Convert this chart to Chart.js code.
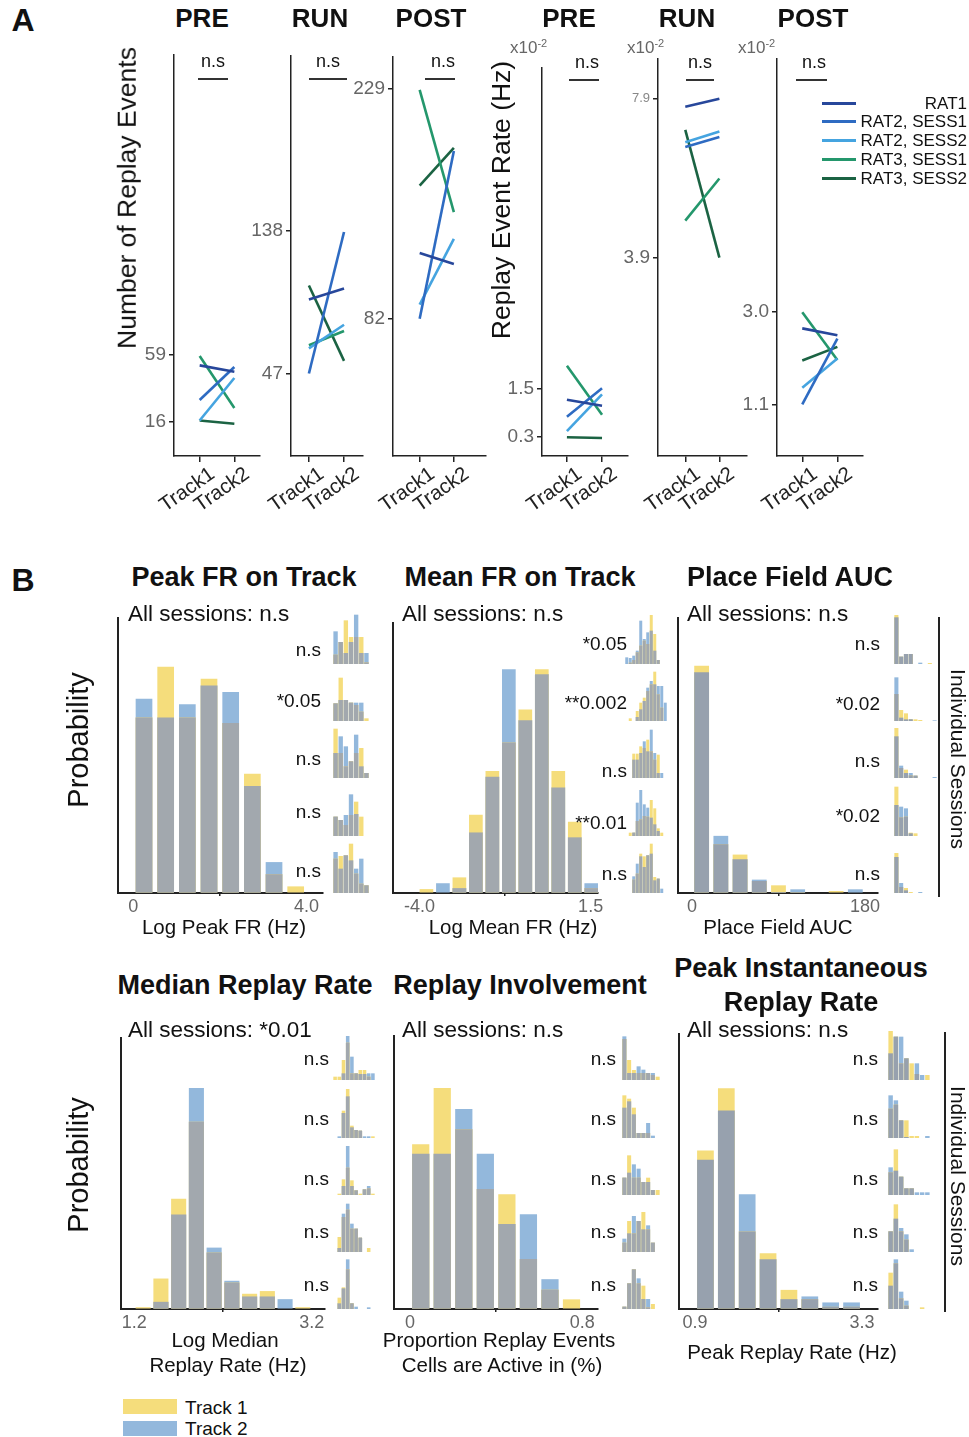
<!DOCTYPE html>
<html>
<head>
<meta charset="utf-8">
<script src="https://cdn.jsdelivr.net/npm/chart.js@4.4.0/dist/chart.umd.min.js"></script>
<style>
  body { margin: 0; background: #fff; font-family: "Liberation Sans", Arial, Helvetica, sans-serif; }
  #fig { position: relative; width: 969px; height: 1437px; overflow: hidden; background: #fff; }
  #fig canvas { position: absolute; }
  .t { position: absolute; white-space: nowrap; color: #111; line-height: 1; }
  .sw { position: absolute; }
</style>
</head>
<body>
<div id="fig"></div>
<script>
// ---------- Panel A data ----------
const sessions = ['RAT1', 'RAT2, SESS1', 'RAT2, SESS2', 'RAT3, SESS1', 'RAT3, SESS2'];
const sessionColors = ['#27479b', '#2e6bc2', '#45a4e0', '#24976c', '#1b6343'];
const tracks = ['Track1', 'Track2'];
const epochs = ['PRE', 'RUN', 'POST'];

// number of replay events, [Track1, Track2] for each session
const countsPre = [[52, 48], [30, 51], [17, 44], [58, 25], [17, 15]];
const countsRun = [[94, 101], [47, 137], [63, 78], [65, 74], [103, 55]];
const countsPost = [[124, 117], [82, 189], [91, 133], [228, 150], [167, 191]];
// replay event rate (x10^-2 Hz), [Track1, Track2] for each session
const ratePre = [[1.22, 1.07], [0.8, 1.5], [0.45, 1.35], [2.05, 0.85], [0.3, 0.28]];
const rateRun = [[7.7, 7.9], [6.69, 6.94], [6.81, 7.08], [4.84, 5.9], [7.12, 3.91]];
const ratePost = [[2.66, 2.52], [1.1, 2.45], [1.44, 2.04], [2.99, 2.01], [2.0, 2.28]];
const countTicks = [[16, 59], [47, 138], [82, 229]];
const rateTicks = [[0.3, 1.5], [3.9, 7.9], [1.1, 3.0]];

// ---------- Panel B data ----------
const peakFRBins = [0.25, 0.75, 1.25, 1.75, 2.25, 2.75, 3.25, 3.75];
const peakFRTrack1 = [0.159, 0.205, 0.159, 0.194, 0.154, 0.108, 0.017, 0.006];
const peakFRTrack2 = [0.176, 0.159, 0.171, 0.188, 0.182, 0.097, 0.028, 0];
const meanFRBins = [-3.78, -3.25, -2.72, -2.19, -1.66, -1.13, -0.6, -0.07, 0.46, 0.99, 1.52];
const meanFRTrack1 = [0.004, 0, 0.016, 0.08, 0.125, 0.154, 0.188, 0.229, 0.125, 0.073, 0.005];
const meanFRTrack2 = [0, 0.01, 0.005, 0.062, 0.119, 0.229, 0.177, 0.224, 0.108, 0.057, 0.01];
const aucBins = [10, 30, 50, 70, 90, 110, 130, 150, 170];
const aucTrack1 = [0.68, 0.146, 0.115, 0.036, 0.023, 0.003, 0, 0.006, 0];
const aucTrack2 = [0.661, 0.171, 0.101, 0.04, 0.003, 0.011, 0, 0, 0.011];
const medRateBins = [1.3, 1.5, 1.7, 1.9, 2.1, 2.3, 2.5, 2.7, 2.9, 3.1];
const medRateTrack1 = [0.004, 0.068, 0.246, 0.418, 0.126, 0.059, 0.034, 0.04, 0, 0.004];
const medRateTrack2 = [0, 0.016, 0.211, 0.493, 0.137, 0.063, 0.028, 0.028, 0.022, 0];
const involveBins = [0.05, 0.15, 0.25, 0.35, 0.45, 0.55, 0.65, 0.75];
const involveTrack1 = [0.188, 0.252, 0.205, 0.137, 0.131, 0.057, 0.022, 0.011];
const involveTrack2 = [0.177, 0.177, 0.228, 0.177, 0.097, 0.108, 0.034, 0];
const peakRateBins = [1.05, 1.35, 1.65, 1.95, 2.25, 2.55, 2.85, 3.15];
const peakRateTrack1 = [0.29, 0.404, 0.142, 0.102, 0.035, 0.018, 0.004, 0.004];
const peakRateTrack2 = [0.273, 0.363, 0.21, 0.091, 0.018, 0.023, 0.012, 0.012];

// individual sessions (relative heights), one row per session
const peakFRSessT1 = [[28, 66, 131, 81, 81, 81, 5], [53, 130, 63, 55, 48, 28, 8], [148, 75, 35, 50, 75, 90, 15], [58, 48, 33, 63, 103, 58, 0], [103, 111, 113, 148, 58, 28, 23]];
const peakFRSessT2 = [[98, 66, 33, 66, 148, 33, 33], [53, 63, 63, 55, 55, 55, 0], [75, 125, 95, 50, 130, 35, 15], [58, 48, 63, 125, 66, 0, 0], [123, 73, 113, 98, 73, 103, 23]];
const meanFRSessT1 = [[0, 4, 12, 35, 55, 70, 60, 147, 90, 12, 0, 0], [0, 8, 0, 30, 55, 70, 90, 110, 148, 80, 40, 0], [0, 0, 73, 73, 95, 90, 115, 80, 55, 70, 0, 0], [0, 10, 10, 45, 50, 60, 58, 108, 83, 23, 10, 0], [0, 0, 40, 58, 118, 110, 113, 148, 48, 43, 0, 0]];
const meanFRSessT2 = [[20, 18, 25, 40, 130, 75, 95, 100, 40, 12, 0, 0], [0, 0, 0, 12, 35, 60, 100, 120, 110, 105, 105, 55], [0, 0, 55, 55, 75, 110, 80, 145, 75, 15, 15, 0], [0, 0, 10, 100, 138, 95, 85, 55, 35, 15, 0, 0], [0, 0, 50, 88, 110, 78, 113, 118, 38, 43, 13, 0]];
const aucSessT1 = [[147, 22, 30, 30, 0, 0, 0, 3, 0], [81, 33, 23, 5, 5, 3, 0, 0, 0], [150, 30, 25, 8, 7, 0, 0, 0, 0], [148, 56, 58, 10, 8, 0, 0, 0, 0], [120, 18, 15, 3, 0, 0, 0, 0, 0]];
const aucSessT2 = [[140, 22, 30, 30, 0, 4, 0, 0, 0], [131, 10, 5, 5, 0, 0, 0, 0, 2], [125, 37, 15, 15, 7, 0, 0, 0, 3], [93, 88, 83, 8, 0, 0, 0, 0, 0], [108, 30, 8, 0, 0, 3, 0, 0, 0]];
const medRateSessT1 = [[10, 10, 60, 112, 20, 20, 30, 30, 10, 0], [0, 0, 82, 147, 37, 24, 22, 0, 0, 5], [0, 4, 47, 82, 44, 14, 4, 17, 20, 4], [0, 45, 105, 127, 70, 70, 43, 0, 12, 0], [0, 34, 65, 119, 17, 0, 0, 0, 0, 0]];
const medRateSessT2 = [[0, 0, 20, 132, 70, 20, 18, 18, 20, 20], [0, 5, 75, 125, 32, 24, 22, 5, 5, 0], [0, 0, 27, 147, 27, 14, 0, 17, 27, 0], [0, 12, 115, 145, 85, 70, 43, 0, 0, 0], [0, 17, 62, 149, 17, 7, 0, 0, 5, 0]];
const involveSessT1 = [[123, 60, 30, 21, 21, 21, 15, 10], [128, 118, 91, 15, 15, 15, 0, 0], [52, 119, 52, 52, 39, 52, 15, 15], [28, 93, 56, 93, 120, 68, 28, 0], [7, 77, 119, 77, 70, 5, 15, 0]];
const involveSessT2 = [[131, 21, 21, 41, 31, 21, 21, 0], [91, 110, 71, 15, 15, 45, 7, 0], [52, 67, 92, 79, 39, 39, 15, 0], [40, 56, 108, 93, 68, 80, 28, 0], [7, 77, 119, 92, 30, 30, 0, 0]];
const peakRateSessT1 = [[147, 130, 50, 65, 50, 18, 0, 15], [88, 100, 53, 53, 6, 6, 0, 0], [68, 137, 55, 20, 20, 0, 0, 0], [62, 143, 62, 37, 0, 0, 0, 0], [109, 137, 32, 10, 0, 0, 5, 0]];
const peakRateSessT2 = [[80, 130, 130, 65, 0, 50, 15, 0], [128, 113, 53, 3, 0, 0, 0, 6], [83, 73, 55, 20, 20, 8, 8, 8], [62, 100, 72, 53, 8, 0, 0, 0], [70, 149, 52, 25, 0, 0, 0, 0]];

const peakFRStats = ['n.s', '*0.05', 'n.s', 'n.s', 'n.s'];
const meanFRStats = ['*0.05', '**0.002', 'n.s', '**0.01', 'n.s'];
const aucStats = ['n.s', '*0.02', 'n.s', '*0.02', 'n.s'];
const medRateStats = ['n.s', 'n.s', 'n.s', 'n.s', 'n.s'];
const involveStats = ['n.s', 'n.s', 'n.s', 'n.s', 'n.s'];
const peakRateStats = ['n.s', 'n.s', 'n.s', 'n.s', 'n.s'];

const YELLOW = '#f5dd7c';
const BLUE = '#93b8dc';
const GRAY = '#a2a8ae';
const GRAY2 = '#97a1ae';

Chart.defaults.font.family = '"Liberation Sans", Arial, Helvetica, sans-serif';
Chart.defaults.animation = false;

const fig = document.getElementById('fig');

function txt(s, x, y, o = {}) {
  const d = document.createElement('div');
  d.className = 't';
  d.innerHTML = s;
  d.style.fontSize = (o.size || 18) + 'px';
  if (o.bold) d.style.fontWeight = 'bold';
  if (o.color) d.style.color = o.color;
  d.style.left = x + 'px';
  d.style.top = y + 'px';
  const ax = o.align === 'left' ? '0' : o.align === 'right' ? '-100%' : '-50%';
  d.style.transform = 'translate(' + ax + ',-50%)' + (o.rot ? ' rotate(' + o.rot + 'deg)' : '');
  fig.appendChild(d);
}

function box(x, y, w, h, color) {
  const d = document.createElement('div');
  d.className = 'sw';
  d.style.left = x + 'px';
  d.style.top = y + 'px';
  d.style.width = w + 'px';
  d.style.height = h + 'px';
  d.style.background = color;
  fig.appendChild(d);
}

function canvasAt(x, y, w, h) {
  const c = document.createElement('canvas');
  w = Math.round(w); h = Math.round(h);
  c.width = w; c.height = h;
  c.style.left = Math.round(x) + 'px';
  c.style.top = Math.round(y) + 'px';
  c.style.width = w + 'px';
  c.style.height = h + 'px';
  fig.appendChild(c);
  return c;
}

// ---------- Panel A ----------
const A_BASE = 456;
const aCharts = [
  { vals: countsPre, ticks: countTicks[0], dec: 0, axisX: 174, top: 55, right: 260, xMin: 0.26, xMax: 2.74, yMin: -5.5, yMax: 249 },
  { vals: countsRun, ticks: countTicks[1], dec: 0, axisX: 291, top: 56, right: 363, xMin: 0.49, xMax: 2.54, yMin: -5.5, yMax: 249 },
  { vals: countsPost, ticks: countTicks[2], dec: 0, axisX: 393, top: 57, right: 486, xMin: 0.22, xMax: 2.94, yMin: -5.5, yMax: 249 },
  { vals: ratePre, ticks: rateTicks[0], dec: 1, axisX: 542, top: 68, right: 628, xMin: 0.29, xMax: 2.74, yMin: -0.16, yMax: 9.35 },
  { vals: rateRun, ticks: rateTicks[1], dec: 1, axisX: 658, top: 59, right: 747, xMin: 0.2, xMax: 2.81, yMin: -1.07, yMax: 8.9, small: 7.9 },
  { vals: ratePost, ticks: rateTicks[2], dec: 1, axisX: 777, top: 59, right: 863, xMin: 0.28, xMax: 2.73, yMin: 0.04, yMax: 8.19 }
];

function drawLines(cfg) {
  const padL = 54, padR = 8, padT = 20, xAxisH = 75;
  const c = canvasAt(cfg.axisX - padL, cfg.top - padT, padL + cfg.right - cfg.axisX + padR, A_BASE - cfg.top + padT + xAxisH);
  new Chart(c, {
    type: 'line',
    data: {
      datasets: sessions.map((s, i) => ({
        label: s,
        data: cfg.vals[i].map((v, j) => ({ x: j + 1, y: v })),
        borderColor: sessionColors[i],
        borderWidth: 2.6,
        pointRadius: 0,
        tension: 0
      }))
    },
    options: {
      responsive: false,
      animation: false,
      events: [],
      layout: { padding: { left: 0, right: padR, top: padT, bottom: 0 } },
      plugins: { legend: { display: false }, tooltip: { enabled: false } },
      scales: {
        x: {
          type: 'linear', min: cfg.xMin, max: cfg.xMax,
          afterBuildTicks: s => { s.ticks = [{ value: 1 }, { value: 2 }]; },
          afterFit: s => { s.height = xAxisH; },
          ticks: { callback: v => tracks[v - 1], minRotation: 35, maxRotation: 35, labelOffset: 13, padding: 0, color: '#222', font: { size: 20.5 } },
          grid: { drawOnChartArea: false, tickLength: 6, color: '#222', lineWidth: 1.5 },
          border: { color: '#222', width: 1.5 }
        },
        y: {
          min: cfg.yMin, max: cfg.yMax,
          afterBuildTicks: s => { s.ticks = cfg.ticks.map(v => ({ value: v })); },
          afterFit: s => { s.width = padL; },
          ticks: {
            callback: v => v.toFixed(cfg.dec),
            color: ctx => (cfg.small && ctx.tick && ctx.tick.value === cfg.small) ? '#888' : '#666',
            padding: 3,
            font: ctx => ({ size: (cfg.small && ctx.tick && ctx.tick.value === cfg.small) ? 13 : 19 })
          },
          grid: { drawOnChartArea: false, tickLength: 5, color: '#222', lineWidth: 1.5 },
          border: { color: '#222', width: 1.5 }
        }
      }
    }
  });
}
aCharts.forEach(drawLines);

txt('A', 23, 20, { size: 32, bold: true });
[202, 320, 431, 569, 687, 813].forEach((x, i) => txt(epochs[i % 3], x, 18, { size: 26, bold: true }));
txt('Number of Replay Events', 127, 198, { size: 26.5, rot: -90 });
txt('Replay Event Rate (Hz)', 501, 200, { size: 26.5, rot: -90 });
[[510, 47], [627, 47], [738, 47]].forEach(p => txt('x10<sup style="font-size:11px">-2</sup>', p[0], p[1], { size: 17, align: 'left', color: '#666' }));

// significance bars
[[213, 198, 228], [328, 309, 347], [443, 425, 455], [587, 569, 599], [700, 686, 714], [814, 796, 827]].forEach((p, i) => {
  const ly = i < 3 ? 79 : 80;
  txt('n.s', p[0], ly - 18, { size: 18 });
  box(p[1], ly - 1, p[2] - p[1], 1.6, '#333');
});

// panel A legend
[103, 121, 140, 159, 178].forEach((y, i) => {
  box(822, y - 1.5, 34, 3, sessionColors[i]);
  txt(sessions[i], 967, y, { size: 17, align: 'right' });
});

// ---------- Panel B ----------
const bCharts = [
  { bins: peakFRBins, t1: peakFRTrack1, t2: peakFRTrack2, ticks: [0, 4], tickLabels: ['0', '4.0'], gray: GRAY,
    axisX: 118, top: 617, base: 893, right: 323, xMin: -0.35, xMax: 4.38, yMax: 0.25, bar: 0.77,
    sessT1: peakFRSessT1, sessT2: peakFRSessT2, stats: peakFRStats, miniX: 333, pitch: 5.2, statX: 321,
    statY: [649, 700, 758, 811, 870], miniBase: [664, 721, 778, 836, 893] },
  { bins: meanFRBins, t1: meanFRTrack1, t2: meanFRTrack2, ticks: [-4, 1.5], tickLabels: ['-4.0', '1.5'], gray: GRAY,
    axisX: 393, top: 622, base: 893, right: 598, xMin: -4.855, xMax: 1.737, yMax: 0.2775, bar: 0.83,
    sessT1: meanFRSessT1, sessT2: meanFRSessT2, stats: meanFRStats, miniX: 625, pitch: 3.5, statX: 627,
    statY: [643, 702, 770, 822, 873], miniBase: [664, 721, 778, 836, 893] },
  { bins: aucBins, t1: aucTrack1, t2: aucTrack2, ticks: [0, 180], tickLabels: ['0', '180'], gray: GRAY2,
    axisX: 678, top: 617, base: 893, right: 878, xMin: -14.6, xMax: 193.6, yMax: 0.826, bar: 0.77,
    sessT1: aucSessT1, sessT2: aucSessT2, stats: aucStats, miniX: 894, pitch: 4.8, statX: 880,
    statY: [643, 703, 760, 815, 873], miniBase: [664, 721, 778, 836, 893] },
  { bins: medRateBins, t1: medRateTrack1, t2: medRateTrack2, ticks: [1.2, 3.2], tickLabels: ['1.2', '3.2'], gray: GRAY,
    axisX: 121, top: 1037, base: 1309, right: 325, xMin: 1.05, xMax: 3.35, yMax: 0.607, bar: 0.85,
    sessT1: medRateSessT1, sessT2: medRateSessT2, stats: medRateStats, miniX: 333, pitch: 4.2, statX: 329,
    statY: [1058, 1118, 1178, 1231, 1284], miniBase: [1080, 1138, 1195, 1252, 1309] },
  { bins: involveBins, t1: involveTrack1, t2: involveTrack2, ticks: [0, 0.8], tickLabels: ['0', '0.8'], gray: GRAY,
    axisX: 394, top: 1035, base: 1309, right: 598, xMin: -0.074, xMax: 0.873, yMax: 0.3125, bar: 0.8,
    sessT1: involveSessT1, sessT2: involveSessT2, stats: involveStats, miniX: 622, pitch: 4.8, statX: 616,
    statY: [1058, 1118, 1178, 1231, 1284], miniBase: [1080, 1138, 1195, 1252, 1309] },
  { bins: peakRateBins, t1: peakRateTrack1, t2: peakRateTrack2, ticks: [0.9, 3.3], tickLabels: ['0.9', '3.3'], gray: GRAY2,
    axisX: 679, top: 1033, base: 1309, right: 878, xMin: 0.67, xMax: 3.53, yMax: 0.505, bar: 0.8,
    sessT1: peakRateSessT1, sessT2: peakRateSessT2, stats: peakRateStats, miniX: 888, pitch: 5.2, statX: 878,
    statY: [1058, 1118, 1178, 1231, 1284], miniBase: [1080, 1138, 1195, 1252, 1309] }
];

function barSet(xs, vals, color, order, pct) {
  return {
    data: vals.map((v, i) => ({ x: xs[i], y: v })),
    backgroundColor: color, order: order, grouped: false,
    barPercentage: pct, categoryPercentage: 1, borderWidth: 0
  };
}

function drawHist(cfg) {
  const padL = 26, padR = 26, xAxisH = 32;
  const c = canvasAt(cfg.axisX - padL, cfg.top, padL + cfg.right - cfg.axisX + padR, cfg.base - cfg.top + xAxisH);
  const overlap = cfg.t1.map((v, i) => Math.min(v, cfg.t2[i]));
  new Chart(c, {
    type: 'bar',
    data: {
      datasets: [
        barSet(cfg.bins, overlap, cfg.gray, 0, cfg.bar),
        barSet(cfg.bins, cfg.t1, YELLOW, 1, cfg.bar),
        barSet(cfg.bins, cfg.t2, BLUE, 2, cfg.bar)
      ]
    },
    options: {
      responsive: false,
      animation: false,
      events: [],
      layout: { padding: { left: padL, right: padR, top: 0, bottom: 0 } },
      plugins: { legend: { display: false }, tooltip: { enabled: false } },
      scales: {
        x: {
          type: 'linear', offset: false, min: cfg.xMin, max: cfg.xMax,
          afterBuildTicks: s => { s.ticks = cfg.ticks.map(v => ({ value: v })); },
          afterFit: s => { s.height = xAxisH; },
          ticks: { callback: (v, i) => cfg.tickLabels[i], color: '#666', font: { size: 18 }, padding: 0, maxRotation: 0, minRotation: 0 },
          grid: { drawOnChartArea: false, tickLength: 3, color: '#222', lineWidth: 1.5 },
          border: { color: '#222', width: 2 }
        },
        y: {
          min: 0, max: cfg.yMax,
          afterFit: s => { s.width = 0; },
          ticks: { display: false },
          grid: { drawOnChartArea: false, drawTicks: false },
          border: { color: '#222', width: 2 }
        }
      }
    }
  });
}

function drawMini(x, base, pitch, t1, t2, gray) {
  const h = 50;
  const c = canvasAt(x, base - h, pitch * t1.length, h);
  const overlap = t1.map((v, i) => Math.min(v, t2[i]));
  const mk = (vals, color, order) => ({ data: vals, backgroundColor: color, order: order, grouped: false, barPercentage: 0.85, categoryPercentage: 1, borderWidth: 0 });
  new Chart(c, {
    type: 'bar',
    data: { labels: t1.map((_, i) => i), datasets: [mk(overlap, gray, 0), mk(t1, YELLOW, 1), mk(t2, BLUE, 2)] },
    options: {
      responsive: false,
      animation: false,
      events: [],
      layout: { padding: 0 },
      plugins: { legend: { display: false }, tooltip: { enabled: false } },
      scales: { x: { display: false }, y: { display: false, min: 0, max: 150 } }
    }
  });
}

bCharts.forEach(cfg => {
  drawHist(cfg);
  cfg.sessT1.forEach((t1, i) => {
    drawMini(cfg.miniX, cfg.miniBase[i], cfg.pitch, t1, cfg.sessT2[i], cfg.gray);
    txt(cfg.stats[i], cfg.statX, cfg.statY[i], { size: 19, align: 'right' });
  });
});

txt('B', 23, 580, { size: 32, bold: true });
txt('Peak FR on Track', 244, 577, { size: 27, bold: true });
txt('Mean FR on Track', 520, 577, { size: 27, bold: true });
txt('Place Field AUC', 790, 577, { size: 27, bold: true });
txt('Median Replay Rate', 245, 985, { size: 27, bold: true });
txt('Replay Involvement', 520, 985, { size: 27, bold: true });
txt('Peak Instantaneous', 801, 968, { size: 27, bold: true });
txt('Replay Rate', 801, 1002, { size: 27, bold: true });

txt('All sessions: n.s', 128, 614, { size: 22.5, align: 'left' });
txt('All sessions: n.s', 402, 614, { size: 22.5, align: 'left' });
txt('All sessions: n.s', 687, 614, { size: 22.5, align: 'left' });
txt('All sessions: *0.01', 128, 1030, { size: 22.5, align: 'left' });
txt('All sessions: n.s', 402, 1030, { size: 22.5, align: 'left' });
txt('All sessions: n.s', 687, 1030, { size: 22.5, align: 'left' });

txt('Log Peak FR (Hz)', 224, 927, { size: 20.5 });
txt('Log Mean FR (Hz)', 513, 927, { size: 20.5 });
txt('Place Field AUC', 778, 927, { size: 20.5 });
txt('Log Median', 225, 1340, { size: 20.5 });
txt('Replay Rate (Hz)', 228, 1365, { size: 20.5 });
txt('Proportion Replay Events', 499, 1340, { size: 20.5 });
txt('Cells are Active in (%)', 502, 1365, { size: 20.5 });
txt('Peak Replay Rate (Hz)', 792, 1352, { size: 20.5 });

txt('Probability', 78, 740, { size: 29, rot: -90 });
txt('Probability', 78, 1165, { size: 29, rot: -90 });
txt('Individual Sessions', 958, 759, { size: 21, rot: 90 });
txt('Individual Sessions', 958, 1176, { size: 21, rot: 90 });
box(938, 617, 1.6, 280, '#222');
box(944, 1032, 1.6, 280, '#222');

// track legend
box(123, 1399, 54, 15, YELLOW);
box(123, 1421, 54, 15, BLUE);
txt('Track 1', 185, 1407, { size: 19, align: 'left' });
txt('Track 2', 185, 1428, { size: 19, align: 'left' });
</script>
</body>
</html>
